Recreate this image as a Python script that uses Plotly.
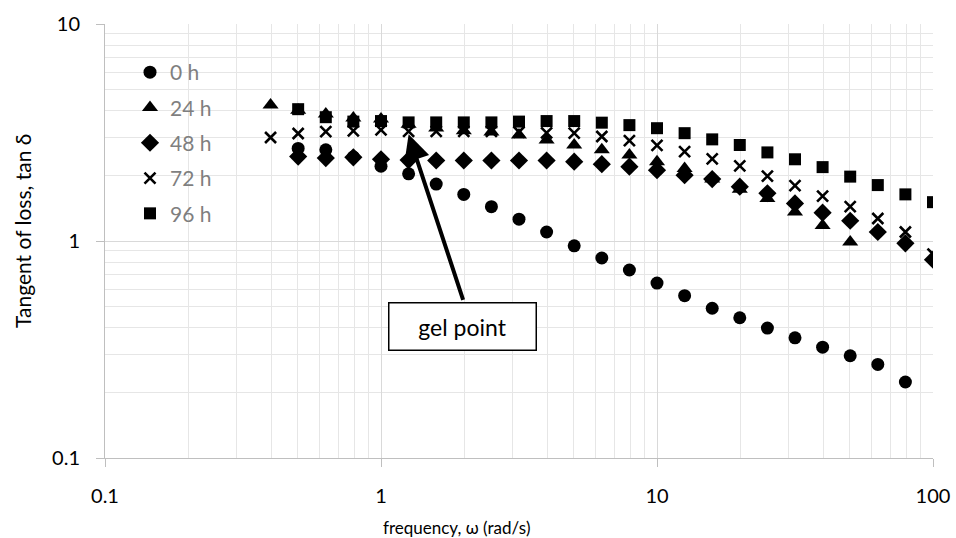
import numpy as np
import plotly.graph_objects as go

# Oscillatory frequency sweep (rad/s), 10 points per decade
freq = [0.398, 0.501, 0.631, 0.794, 1.0, 1.259, 1.585, 1.995, 2.512, 3.162,
        3.981, 5.012, 6.310, 7.943, 10.0, 12.59, 15.85, 19.95, 25.12, 31.62,
        39.81, 50.12, 63.10, 79.43, 100.0]

# tan(delta) per curing time
tan_0h = [2.67, 2.63, 2.44, 2.21, 2.04, 1.83, 1.64, 1.44, 1.26, 1.10, 0.95,
          0.835, 0.735, 0.64, 0.56, 0.49, 0.443, 0.397, 0.358, 0.324, 0.296,
          0.27, 0.224]                                  # 0.501 .. 79.43
tan_24h = [4.23, 4.0, 3.85, 3.69, 3.65, 3.45, 3.32, 3.22, 3.18, 3.08, 2.92,
           2.77, 2.63, 2.49, 2.32, 2.16, 1.93, 1.73, 1.57, 1.36, 1.18, 0.99]  # 0.398 .. 50.12
tan_48h = [2.45, 2.41, 2.43, 2.38, 2.36, 2.35, 2.35, 2.35, 2.35, 2.35, 2.32,
           2.26, 2.20, 2.12, 2.01, 1.93, 1.78, 1.66, 1.49, 1.35, 1.24, 1.10,
           0.976, 0.82]                                 # 0.501 .. 100
tan_72h = [3.0, 3.13, 3.19, 3.22, 3.25, 3.2, 3.2, 3.2, 3.2, 3.18, 3.15, 3.14,
           3.03, 2.9, 2.76, 2.58, 2.39, 2.22, 1.99, 1.80, 1.61, 1.44, 1.27,
           1.10, 0.87]                                  # 0.398 .. 100
tan_96h = [4.05, 3.72, 3.55, 3.57, 3.52, 3.52, 3.52, 3.52, 3.55, 3.57, 3.57,
           3.51, 3.42, 3.31, 3.14, 2.94, 2.77, 2.56, 2.38, 2.19, 1.98, 1.81,
           1.64, 1.51]                                  # 0.501 .. 100

series = [
    ("0 h", freq[1:24], tan_0h, "circle", 13),
    ("24 h", freq[0:22], tan_24h, "triangle-up", 14),
    ("48 h", freq[1:25], tan_48h, "diamond", 14),
    ("72 h", freq[0:25], tan_72h, "x-thin-open", 11),
    ("96 h", freq[1:25], tan_96h, "square", 12),
]

gel_freq = 1.259
gel_tan = 3.1

FONT = "Lato"
fig = go.Figure()
for name, xs, ys, sym, size in series:
    marker = dict(symbol=sym, size=size, color="black")
    if sym == "x-thin-open":
        marker["line"] = dict(width=2.6, color="black")
    else:
        marker["line"] = dict(width=0)
    fig.add_trace(go.Scatter(x=xs, y=ys, mode="markers", name=name,
                             legendgroup=name, marker=marker))

minor_x = [m * 10.0 ** e for e in (-1, 0, 1) for m in range(2, 10)]
minor_y = [m * 10.0 ** e for e in (-1, 0) for m in range(2, 10)]

axis_common = dict(
    type="log", showline=True, linecolor="#bfbfbf", linewidth=1,
    showgrid=True, gridcolor="#d9d9d9", gridwidth=1,
    ticks="outside", ticklen=8, tickcolor="#bfbfbf",
    tickfont=dict(family=FONT, size=20, color="black"),
    zeroline=False, mirror=False, automargin=False,
)

fig.update_xaxes(**axis_common, range=[-1, 2],
                 tickvals=[0.1, 1, 10, 100], ticktext=["0.1", "1", "10", "100"],
                 ticklabelstandoff=12,
                 minor=dict(tickvals=minor_x, showgrid=True, gridcolor="#e6e6e6",
                            ticks=""))
fig.update_yaxes(**axis_common, range=[-1, 1],
                 tickvals=[0.1, 1, 10], ticktext=["0.1", "1", "10"],
                 ticklabelstandoff=12,
                 minor=dict(tickvals=minor_y, showgrid=True, gridcolor="#e6e6e6",
                            ticks=""))

L, R, T, B = 105, 23, 24, 80
W, H = 956, 538
pw, ph = W - L - R, H - T - B


def px_x(px):
    return (px - L) / pw


def px_y(py):
    return (H - B - py) / ph


annotations = [
    # axis titles
    dict(text="frequency, ω (rad/s)", xref="paper", yref="paper",
         x=px_x(457), y=px_y(527), xanchor="center", yanchor="middle",
         showarrow=False, font=dict(family=FONT, size=17, color="black")),
    dict(text="Tangent of loss, tan δ", xref="paper", yref="paper",
         x=px_x(22), y=px_y(231), xanchor="center", yanchor="middle",
         textangle=-90, showarrow=False,
         font=dict(family=FONT, size=21, color="black")),
    # gel point label box
    dict(text="gel point", xref="paper", yref="paper",
         x=px_x(462), y=px_y(326), xanchor="center", yanchor="middle",
         showarrow=False, width=146, height=46, borderpad=0,
         bordercolor="black", borderwidth=1.5, bgcolor="white",
         font=dict(family=FONT, size=23, color="black")),
    # arrow to the gel point
    dict(text="", x=np.log10(gel_freq), y=np.log10(gel_tan), xref="x", yref="y",
         showarrow=True, ax=55, ay=167, arrowhead=2, arrowsize=1.3,
         arrowwidth=4, arrowcolor="black", standoff=0),
]

fig.update_layout(
    width=W, height=H,
    margin=dict(l=L, r=R, t=T, b=B, pad=0, autoexpand=False),
    paper_bgcolor="white", plot_bgcolor="white",
    font=dict(family=FONT),
    showlegend=True,
    legend=dict(x=px_x(130), y=px_y(52), xanchor="left", yanchor="top",
                bgcolor="rgba(0,0,0,0)", borderwidth=0,
                font=dict(family=FONT, size=21, color="#7f7f7f"),
                tracegroupgap=5, itemwidth=30),
    annotations=annotations,
)

fig.write_html("out.html")
